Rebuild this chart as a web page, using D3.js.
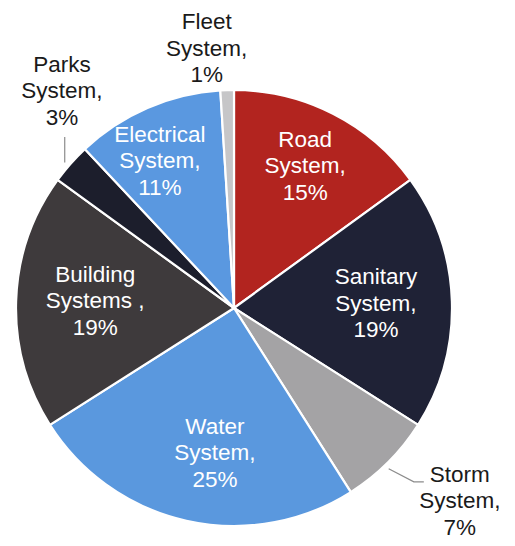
<!DOCTYPE html>
<html><head><meta charset="utf-8">
<script src="https://cdn.jsdelivr.net/npm/d3@7"></script>
<style>html,body{margin:0;padding:0;background:#fff;}svg{display:block;}</style>
</head><body>
<script>
const categories = ["Road System","Sanitary System","Storm System","Water System","Building Systems","Parks System","Electrical System","Fleet System"];
const values = [15, 19, 7, 25, 19, 3, 11, 1];
const labelLines = [["Road","System,","15%"],["Sanitary","System,","19%"],["Storm","System,","7%"],["Water","System,","25%"],["Building","Systems ,","19%"],["Parks","System,","3%"],["Electrical","System,","11%"],["Fleet","System,","1%"]];

const colors = ["#b2241f","#1f2236","#a4a3a5","#5a98de","#3e3a3c","#1c1e2c","#5a98e0","#c6c6c8"];
const inside = [true,true,false,true,true,false,true,false];
// label placement: [radius px, angle deg] of label block centre
const labelPolar = [[159,26.6],[142,88],[297,130.5],[146,187.5],[139,272.9],[277,321.6],[165,333.3],[261,354]];

const W=515,H=546,cx=234,cy=308,R=218;
const svg=d3.select("body").append("svg").attr("width",W).attr("height",H);
const g=svg.append("g").attr("transform",`translate(${cx},${cy})`);
const data=categories.map((c,i)=>({c,v:values[i],i}));
const pie=d3.pie().sort(null).value(d=>d.v);
const arcs=pie(data);
const arc=d3.arc().innerRadius(0).outerRadius(R);
g.selectAll("path.s").data(arcs).join("path").attr("class","s")
  .attr("d",arc).attr("fill",d=>colors[d.data.i]).attr("stroke","#fff").attr("stroke-width",2.2).attr("stroke-linejoin","round");

const pol=(r,deg)=>{const a=deg*Math.PI/180;return [r*Math.sin(a),-r*Math.cos(a)];};
const lh=26.5;
arcs.forEach(d=>{
  const i=d.data.i;
  const [lx,ly]=pol(labelPolar[i][0],labelPolar[i][1]);
  const t=g.append("text").attr("text-anchor","middle")
    .attr("font-family","'Liberation Sans',Arial,sans-serif").attr("font-size",22.5)
    .attr("fill",inside[i]?"#ffffff":"#1a1a1a");
  labelLines[i].forEach((s,k)=>{
    t.append("tspan").attr("x",lx).attr("y",ly+7.5+(k-1)*lh).text(s);
  });
  if(!inside[i] && d.data.v>=3){
    const mid=(d.startAngle+d.endAngle)/2*180/Math.PI;
    const [ex,ey]=pol(R+5,mid);
    let pts;
    if(lx<0){ // label above-left: vertical leader
      pts=[[ex-2,ey+2],[ex-2,ly+46]];
    } else {
      const bx=lx-36, by=ly-19;
      pts=[[ex-3,ey+3],[bx-10,by],[bx,by]];
    }
    g.append("path").attr("d",d3.line()(pts)).attr("fill","none").attr("stroke","#8c8c8c").attr("stroke-width",1.2);
  }
});
</script>
</body></html>
